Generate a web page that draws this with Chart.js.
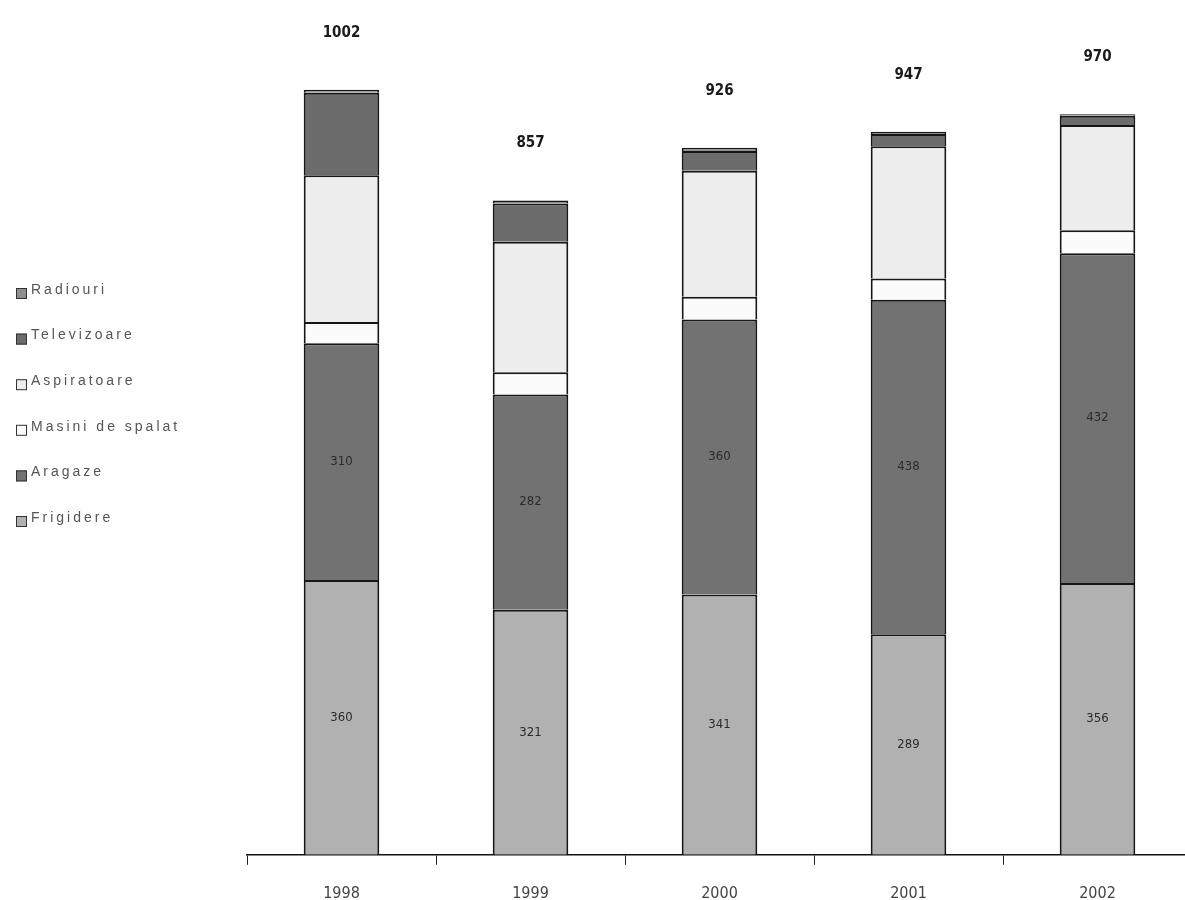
<!DOCTYPE html>
<html>
<head>
<meta charset="utf-8">
<script src="https://cdn.jsdelivr.net/npm/chart.js@4.4.0/dist/chart.umd.min.js"></script>
<style>
  html, body { margin: 0; padding: 0; background: #fff; overflow: hidden; }
  #wrap { width: 1200px; height: 900px; }
</style>
</head>
<body>
<div id="wrap"><canvas id="chart" width="1200" height="900"></canvas></div>
<script>
// ani
var years = ['1998', '1999', '2000', '2001', '2002'];

// valori pe categorii (de jos in sus in stiva)
var frigidere = [360, 321, 341, 289, 356];
var aragaze = [310, 282, 360, 438, 432];
var masiniSpalat = [28, 29, 30, 28, 30];
var aspiratoare = [192, 171, 165, 173, 138];
var televizoare = [108, 50, 26, 16, 12];
var radiouri = [4, 4, 4, 3, 2];

// totalurile scrise deasupra coloanelor
var totals = [1002, 857, 926, 947, 970];

var narrow = "'Liberation Sans Narrow', 'DejaVu Sans Condensed', 'Liberation Sans', sans-serif";

// etichete in mijlocul segmentelor Frigidere si Aragaze
var segmentLabels = {
    id: 'segmentLabels',
    afterDatasetsDraw: function(chart) {
        var ctx = chart.ctx;
        ctx.save();
        ctx.font = '13px ' + narrow;
        ctx.fillStyle = '#2a2a2a';
        ctx.textAlign = 'center';
        ctx.textBaseline = 'middle';
        [0, 1].forEach(function(di) {
            var meta = chart.getDatasetMeta(di);
            meta.data.forEach(function(bar, i) {
                var yMid = (bar.y + bar.base) / 2;
                ctx.fillText(chart.data.datasets[di].data[i], bar.x, yMid);
            });
        });
        ctx.restore();
    }
};

// totalul deasupra fiecarei coloane
var totalLabels = {
    id: 'totalLabels',
    afterDatasetsDraw: function(chart) {
        var ctx = chart.ctx;
        var last = chart.data.datasets.length - 1;
        var meta = chart.getDatasetMeta(last);
        ctx.save();
        ctx.font = 'bold 15px ' + narrow;
        ctx.fillStyle = '#1a1a1a';
        ctx.textAlign = 'center';
        ctx.textBaseline = 'middle';
        meta.data.forEach(function(bar, i) {
            ctx.fillText(totals[i], bar.x, bar.y - 57);
        });
        ctx.restore();
    }
};

// legenda in stanga, de sus in jos: Radiouri ... Frigidere
var sideLegend = {
    id: 'sideLegend',
    afterDraw: function(chart) {
        var ctx = chart.ctx;
        var ds = chart.data.datasets.slice().reverse();
        ctx.save();
        ctx.font = '14px "Liberation Sans", Arial, sans-serif';
        ctx.letterSpacing = '3px';
        ctx.textBaseline = 'middle';
        ctx.textAlign = 'left';
        ds.forEach(function(d, i) {
            var y = 292 + i * 45.6;
            ctx.fillStyle = d.backgroundColor;
            ctx.fillRect(16, y - 4, 11, 11);
            ctx.strokeStyle = '#333';
            ctx.lineWidth = 1;
            ctx.strokeRect(16.5, y - 3.5, 10, 10);
            ctx.fillStyle = '#555';
            ctx.fillText(d.label, 31, y - 2);
        });
        ctx.restore();
    }
};

function makeSet(label, data, color) {
    return {
        label: label,
        data: data,
        backgroundColor: color,
        borderColor: '#161616',
        borderWidth: 2,
        barPercentage: 0.5,
        categoryPercentage: 0.8
    };
}

var ctx = document.getElementById('chart').getContext('2d');
var chart = new Chart(ctx, {
    type: 'bar',
    data: {
        labels: years,
        datasets: [
            makeSet('Frigidere', frigidere, '#b1b1b1'),
            makeSet('Aragaze', aragaze, '#727272'),
            makeSet('Masini de spalat', masiniSpalat, '#fbfbfb'),
            makeSet('Aspiratoare', aspiratoare, '#ededed'),
            makeSet('Televizoare', televizoare, '#6c6c6c'),
            makeSet('Radiouri', radiouri, '#8e8e8e')
        ]
    },
    options: {
        responsive: false,
        animation: false,
        layout: { padding: { left: 247, right: 8, top: 15, bottom: -22 } },
        scales: {
            x: {
                stacked: true,
                grid: {
                    offset: true,
                    drawOnChartArea: false,
                    drawTicks: true,
                    tickLength: 10,
                    color: '#222',
                    lineWidth: 1
                },
                border: { display: true, color: '#111', width: 1.5 },
                ticks: {
                    color: '#444',
                    padding: 19,
                    font: { family: narrow, size: 16 }
                }
            },
            y: {
                stacked: true,
                display: false,
                min: 0,
                max: 1100
            }
        },
        plugins: {
            legend: { display: false },
            tooltip: { enabled: false }
        }
    },
    plugins: [segmentLabels, totalLabels, sideLegend]
});
</script>
</body>
</html>
